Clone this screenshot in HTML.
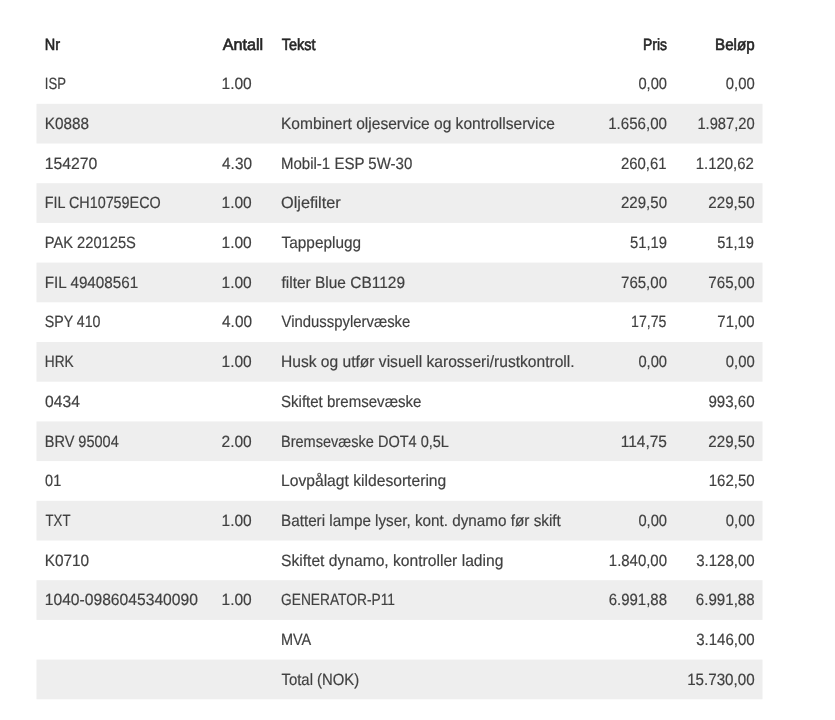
<!DOCTYPE html>
<html lang="no"><head><meta charset="utf-8"><title>Faktura</title><style>
html,body{margin:0;padding:0;background:#fff;}
body{width:835px;height:720px;overflow:hidden;position:relative;text-rendering:geometricPrecision;font-family:"Liberation Sans",Arial,Helvetica,sans-serif;font-size:16.3px;color:#404040;}
.s{position:absolute;left:0;top:0;width:835px;height:720px;}
.s rect{height:39.7px;fill:#eee;}
.r{position:absolute;left:0;width:835px;height:39.7px;line-height:39.7px;white-space:nowrap;}
.r span{position:absolute;top:0;display:block;box-sizing:border-box;}
.a,.b,.c{transform-origin:0 50%;}
.d,.e{transform-origin:100% 50%;text-align:right;}
.a{left:45px;width:170px;text-indent:-0.3px;}.b{left:222px;width:55px;text-indent:-0.5px;}.c{left:281px;width:320px;}.d{left:567px;width:100px;}.e{left:655px;width:100px;padding-right:0.4px;}
.r{-webkit-text-stroke:0.18px #404040}
.h{color:#262626;-webkit-text-stroke:0.62px #262626;}
</style></head><body>
<svg class="s" width="835" height="720" viewBox="0 0 835 720"><rect x="36.5" y="103.80" width="726" height="39.7"/><rect x="36.5" y="183.20" width="726" height="39.7"/><rect x="36.5" y="262.60" width="726" height="39.7"/><rect x="36.5" y="342.00" width="726" height="39.7"/><rect x="36.5" y="421.40" width="726" height="39.7"/><rect x="36.5" y="500.80" width="726" height="39.7"/><rect x="36.5" y="580.20" width="726" height="39.7"/><rect x="36.5" y="659.60" width="726" height="39.7"/></svg>
<div class="r h" style="top:26px"><span class="a" style="transform:scaleX(0.8891)">Nr</span><span class="b" style="transform:scaleX(0.9920);text-indent:0.7px">Antall</span><span class="c" style="transform:scaleX(0.8896);text-indent:0.8px">Tekst</span><span class="d" style="transform:scaleX(0.8532)">Pris</span><span class="e" style="transform:scaleX(0.9297)">Beløp</span></div>
<div class="r" style="top:65px"><span class="a" style="transform:scaleX(0.8052)">ISP</span><span class="b" style="transform:scaleX(0.9538)">1.00</span><span class="d" style="transform:scaleX(0.9008)">0,00</span><span class="e" style="transform:scaleX(0.9091)">0,00</span></div>
<div class="r" style="top:105px"><span class="a" style="transform:scaleX(0.9407)">K0888</span><span class="c" style="transform:scaleX(0.9552)">Kombinert oljeservice og kontrollservice</span><span class="d" style="transform:scaleX(0.9281)">1.656,00</span><span class="e" style="transform:scaleX(0.9030)">1.987,20</span></div>
<div class="r" style="top:145px"><span class="a" style="transform:scaleX(0.9685)">154270</span><span class="b" style="transform:scaleX(0.9421);text-indent:0.1px">4.30</span><span class="c" style="transform:scaleX(0.9218)">Mobil-1 ESP 5W-30</span><span class="d" style="transform:scaleX(0.9153);padding-right:0.5px">260,61</span><span class="e" style="transform:scaleX(0.9183);padding-right:1.2px">1.120,62</span></div>
<div class="r" style="top:184px"><span class="a" style="transform:scaleX(0.8817)">FIL CH10759ECO</span><span class="b" style="transform:scaleX(0.9537)">1.00</span><span class="c" style="transform:scaleX(1.0007)">Oljefilter</span><span class="d" style="transform:scaleX(0.9233)">229,50</span><span class="e" style="transform:scaleX(0.9291)">229,50</span></div>
<div class="r" style="top:224px"><span class="a" style="transform:scaleX(0.9016)">PAK 220125S</span><span class="b" style="transform:scaleX(0.9538)">1.00</span><span class="c" style="transform:scaleX(0.9437);text-indent:0.6px">Tappeplugg</span><span class="d" style="transform:scaleX(0.9104)">51,19</span><span class="e" style="transform:scaleX(0.9000);padding-right:1.3px">51,19</span></div>
<div class="r" style="top:264px"><span class="a" style="transform:scaleX(0.9360)">FIL 49408561</span><span class="b" style="transform:scaleX(0.9537)">1.00</span><span class="c" style="transform:scaleX(0.9503);text-indent:0.5px">filter Blue CB1129</span><span class="d" style="transform:scaleX(0.9226)">765,00</span><span class="e" style="transform:scaleX(0.9291)">765,00</span></div>
<div class="r" style="top:303px"><span class="a" style="transform:scaleX(0.8717)">SPY 410</span><span class="b" style="transform:scaleX(0.9421);text-indent:0.1px">4.00</span><span class="c" style="transform:scaleX(0.9142);text-indent:0.6px">Vindusspylervæske</span><span class="d" style="transform:scaleX(0.8684);padding-right:0.6px">17,75</span><span class="e" style="transform:scaleX(0.9149)">71,00</span></div>
<div class="r" style="top:343px"><span class="a" style="transform:scaleX(0.8418)">HRK</span><span class="b" style="transform:scaleX(0.9537)">1.00</span><span class="c" style="transform:scaleX(0.9572)">Husk og utfør visuell karosseri/rustkontroll.</span><span class="d" style="transform:scaleX(0.9012)">0,00</span><span class="e" style="transform:scaleX(0.9094)">0,00</span></div>
<div class="r" style="top:383px"><span class="a" style="transform:scaleX(0.9589);text-indent:0.1px">0434</span><span class="c" style="transform:scaleX(0.9237)">Skiftet bremsevæske</span><span class="e" style="transform:scaleX(0.9279)">993,60</span></div>
<div class="r" style="top:423px"><span class="a" style="transform:scaleX(0.8915)">BRV 95004</span><span class="b" style="transform:scaleX(0.9537)">2.00</span><span class="c" style="transform:scaleX(0.8924)">Bremsevæske DOT4 0,5L</span><span class="d" style="transform:scaleX(0.9520)">114,75</span><span class="e" style="transform:scaleX(0.9291)">229,50</span></div>
<div class="r" style="top:462px"><span class="a" style="transform:scaleX(0.8884);text-indent:0.1px">01</span><span class="c" style="transform:scaleX(0.9610)">Lovpålagt kildesortering</span><span class="e" style="transform:scaleX(0.9228)">162,50</span></div>
<div class="r" style="top:502px"><span class="a" style="transform:scaleX(0.8111);text-indent:0.7px">TXT</span><span class="b" style="transform:scaleX(0.9537)">1.00</span><span class="c" style="transform:scaleX(0.9369)">Batteri lampe lyser, kont. dynamo før skift</span><span class="d" style="transform:scaleX(0.9012)">0,00</span><span class="e" style="transform:scaleX(0.9094)">0,00</span></div>
<div class="r" style="top:542px"><span class="a" style="transform:scaleX(0.9440)">K0710</span><span class="c" style="transform:scaleX(0.9598)">Skiftet dynamo, kontroller lading</span><span class="d" style="transform:scaleX(0.9176)">1.840,00</span><span class="e" style="transform:scaleX(0.9229)">3.128,00</span></div>
<div class="r" style="top:581px"><span class="a" style="transform:scaleX(0.9614)">1040-0986045340090</span><span class="b" style="transform:scaleX(0.9537)">1.00</span><span class="c" style="transform:scaleX(0.8455)">GENERATOR-P11</span><span class="d" style="transform:scaleX(0.9198)">6.991,88</span><span class="e" style="transform:scaleX(0.9276)">6.991,88</span></div>
<div class="r" style="top:621px"><span class="c" style="transform:scaleX(0.8883)">MVA</span><span class="e" style="transform:scaleX(0.9229)">3.146,00</span></div>
<div class="r" style="top:661px"><span class="c" style="transform:scaleX(0.9128);text-indent:0.6px">Total (NOK)</span><span class="e" style="transform:scaleX(0.9313)">15.730,00</span></div>
</body></html>
